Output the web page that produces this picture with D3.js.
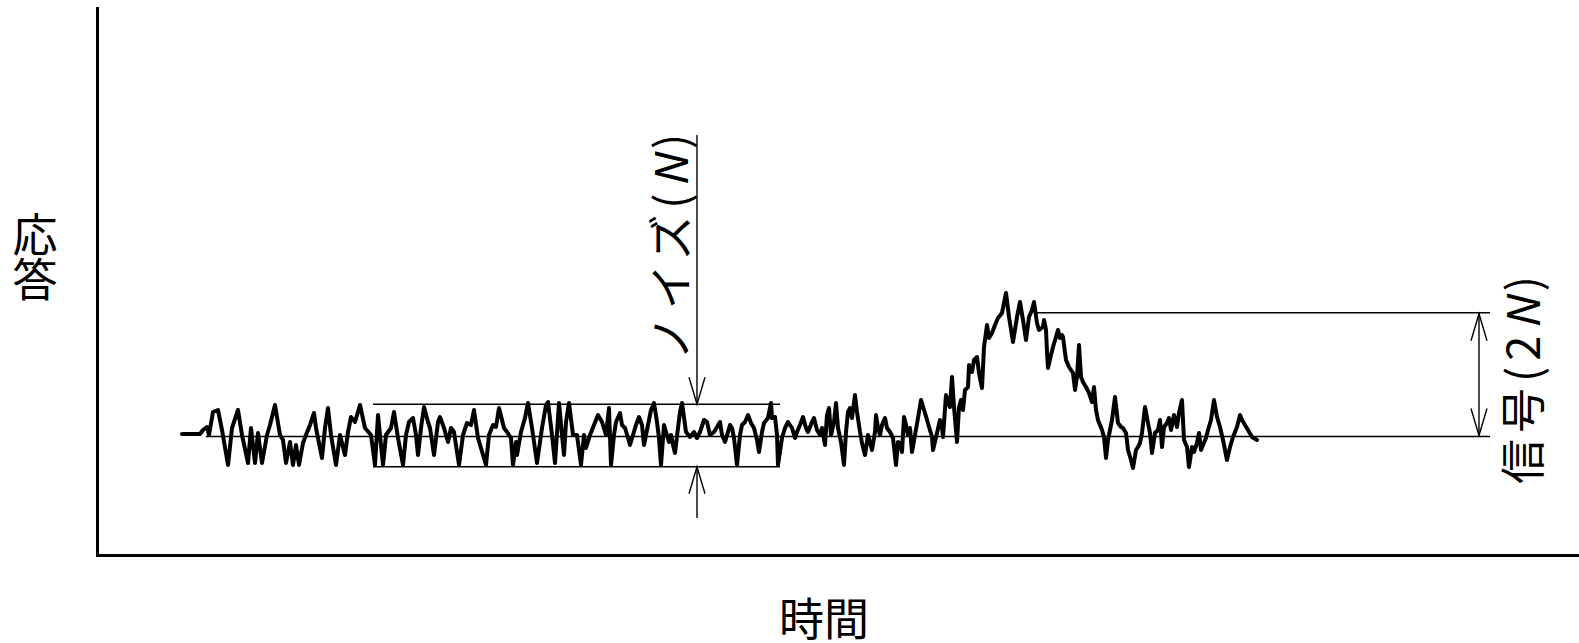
<!DOCTYPE html>
<html>
<head>
<meta charset="utf-8">
<script src="https://cdn.jsdelivr.net/npm/d3@7"></script>
<style>
  html, body { margin: 0; padding: 0; background: #fff; }
  svg { display: block; }
  .label { font-family: "Noto Sans CJK JP", "Noto Sans", sans-serif; fill: #000; }
</style>
</head>
<body>
<div id="chart"></div>
<script>
"use strict";

// detector trace (time, response)
const times = [
  85, 103, 106, 110, 112, 116, 121, 125, 131, 135, 141, 145, 151, 154, 158, 161, 165, 170, 173, 178,
  183, 186, 189, 193, 196, 199, 202, 206, 209, 213, 217, 219, 225, 228, 231, 234, 239, 243, 248, 251,
  254, 258, 263, 268, 274, 278, 281, 286, 289, 294, 297, 301, 306, 309, 312, 316, 319, 321, 324, 327,
  331, 333, 337, 341, 343, 347, 351, 354, 357, 362, 366, 370, 374, 377, 381, 384, 389, 392, 396, 399,
  402, 407, 410, 414, 416, 419, 420, 424, 428, 431, 435, 440, 445, 449, 451, 455, 458, 462, 465, 467,
  469, 472, 476, 480, 484, 487, 489, 493, 497, 501, 505, 509, 512, 514, 517, 519, 523, 525, 528, 531,
  533, 536, 539, 542, 545, 547, 551, 554, 557, 560, 562, 564, 567, 569, 572, 574, 576, 578, 581, 583,
  585, 589, 593, 597, 600, 603, 607, 610, 613, 617, 620, 623, 625, 628, 631, 633, 635, 637, 640, 643,
  645, 648, 651, 654, 657, 660, 662, 665, 667, 671, 674, 675, 678, 680, 681, 685, 688, 691, 695, 698,
  700, 703, 706, 709, 711, 715, 717, 720, 723, 725, 728, 730, 732, 734, 737, 739, 741, 744, 747, 749,
  751, 753, 755, 758, 760, 763, 765, 768, 771, 773, 775, 778, 779, 781, 783, 785, 788, 790, 793, 796,
  799, 801, 803, 805, 807, 809, 811, 813, 815, 818, 821, 824, 828, 835, 836, 840, 843, 845, 846, 849,
  851, 853, 855, 857, 860, 862, 864, 866, 868, 871, 872, 875, 877, 880, 882, 885, 887, 890, 892, 895,
  898, 901, 905, 909, 912, 916, 920, 923, 926, 929, 932, 935, 937, 940, 942, 946, 947, 949, 950, 951,
  954, 956, 959, 961, 963, 965, 966, 969, 972, 976, 978, 980, 982, 984, 986, 989, 992, 995, 997, 999,
  1001, 1005, 1007, 1009, 1011, 1015, 1018, 1021, 1024, 1026, 1029, 1031, 1034, 1036, 1039, 1041, 1043, 1045, 1048, 1051,
  1053, 1055, 1058, 1061, 1063, 1065, 1067, 1070, 1072, 1074, 1075, 1077, 1080, 1082, 1085, 1087, 1090, 1092, 1095, 1097,
  1100, 1102, 1104, 1106, 1109, 1111, 1114, 1117, 1120, 1123, 1126, 1130, 1133, 1136, 1140, 1143, 1145, 1148, 1151, 1155,
  1160
];
const responses = [
  121, 121, 125, 128, 120, 143, 145, 125, 90, 127, 145, 120, 92, 127, 92, 122, 92, 120, 130, 150,
  120, 115, 92, 113, 90, 110, 90, 112, 120, 130, 142, 127, 97, 127, 147, 120, 90, 120, 100, 123,
  138, 133, 150, 127, 120, 90, 140, 90, 120, 127, 143, 117, 90, 120, 133, 137, 120, 100, 127, 148,
  133, 127, 100, 133, 138, 127, 113, 127, 123, 90, 120, 132, 130, 145, 117, 107, 90, 120, 130, 128,
  147, 127, 123, 117, 90, 113, 100, 123, 137, 152, 127, 92, 127, 150, 153, 120, 92, 152, 120, 100,
  133, 152, 120, 120, 90, 120, 107, 120, 130, 140, 133, 120, 147, 90, 120, 133, 142, 130, 127, 117,
  110, 120, 130, 138, 130, 110, 130, 145, 152, 133, 117, 90, 130, 123, 113, 120, 110, 102, 127, 143,
  152, 123, 118, 123, 117, 123, 135, 133, 120, 123, 128, 133, 120, 113, 123, 130, 127, 117, 90, 120,
  130, 133, 140, 132, 127, 115, 103, 123, 132, 137, 152, 137, 138, 120, 90, 117, 127, 133, 127, 117,
  123, 130, 138, 127, 123, 133, 137, 125, 120, 127, 110, 140, 147, 120, 133, 152, 127, 113, 90, 123,
  143, 147, 137, 160, 143, 123, 112, 100, 120, 113, 105, 123, 140, 127, 120, 130, 137, 127, 123, 117,
  90, 113, 112, 103, 138, 130, 120, 127, 103, 120, 137, 155, 142, 118, 105, 122, 135, 128, 118, 160,
  152, 148, 178, 148, 113, 148, 155, 145, 165, 168, 190, 183, 195, 198, 182, 167, 208, 230, 217, 222,
  230, 237, 242, 262, 238, 213, 238, 253, 235, 215, 238, 245, 253, 232, 225, 228, 235, 225, 203, 187,
  200, 208, 218, 225, 217, 220, 218, 195, 188, 182, 165, 178, 210, 178, 173, 168, 162, 153, 168, 145,
  135, 125, 118, 97, 115, 135, 158, 132, 128, 127, 122, 105, 95, 87, 105, 108, 112, 122, 148, 132,
  122, 102, 122, 125, 135, 108, 128, 132, 137, 125, 130, 140, 128, 142, 155, 115, 108, 88, 108, 103,
  112, 122, 105, 110, 117, 125, 135, 155, 138, 128, 115, 95, 108, 118, 128, 140, 135, 130, 125, 118,
  115
];

// annotation levels
const baselineLevel = 118.5;
const noiseBand = [88.3, 150.7];
const noiseWindow = [276, 683];
const baselineSpan = [109, 1393];
const signalLevel = 242.3;
const signalStart = 940;
const noiseArrowTime = 600;
const noiseArrowTails = [37, 420];
const signalArrowTime = 1382;

const xLabel = "時間";
const yLabel = "応答";
const noiseLabel = ["ノイズ(", "N", ")"];
const signalLabel = ["信号(2", "N", ")"];

const width = 1579;
const height = 643;

const svg = d3.select("#chart")
  .append("svg")
  .attr("width", width)
  .attr("height", height);

const x = d3.scaleLinear().domain([0, 1482]).range([97, 1579]);
const y = d3.scaleLinear().domain([0, 547]).range([555, 8]);

// axes: bare lines, no ticks
const yAxis = d3.axisLeft(y).tickValues([]).tickSizeOuter(0);
const xAxis = d3.axisBottom(x).tickValues([]).tickSizeOuter(0);

svg.append("g")
  .attr("transform", `translate(${x(0)},0)`)
  .call(yAxis)
  .select(".domain")
  .attr("stroke-width", 3)
  .attr("stroke-linecap", "square");

svg.append("g")
  .attr("transform", `translate(0,${y(0)})`)
  .call(xAxis)
  .select(".domain")
  .attr("stroke-width", 3)
  .attr("stroke-linecap", "square");

// thin guide lines
const guides = svg.append("g").attr("stroke", "#000").attr("stroke-width", 1.4).attr("fill", "none");

function hLine(level, t0, t1) {
  guides.append("line")
    .attr("x1", x(t0)).attr("x2", x(t1))
    .attr("y1", y(level)).attr("y2", y(level));
}

function vLine(t, r0, r1) {
  guides.append("line")
    .attr("x1", x(t)).attr("x2", x(t))
    .attr("y1", y(r0)).attr("y2", y(r1));
}

// open V arrow head; dir 1 points up, -1 points down
function arrowHead(t, r, dir) {
  const px = x(t), py = y(r);
  const len = 27, half = 8;
  guides.append("path")
    .attr("d", `M${px - half},${py + dir * len}L${px},${py}L${px + half},${py + dir * len}`);
}

hLine(baselineLevel, baselineSpan[0], baselineSpan[1]);
hLine(noiseBand[0], noiseWindow[0], noiseWindow[1]);
hLine(noiseBand[1], noiseWindow[0], noiseWindow[1]);
hLine(signalLevel, signalStart, baselineSpan[1]);

vLine(noiseArrowTime, noiseArrowTails[1], noiseBand[1]);
arrowHead(noiseArrowTime, noiseBand[1], -1);
vLine(noiseArrowTime, noiseArrowTails[0], noiseBand[0]);
arrowHead(noiseArrowTime, noiseBand[0], 1);

vLine(signalArrowTime, baselineLevel, signalLevel);
arrowHead(signalArrowTime, signalLevel - 1, 1);
arrowHead(signalArrowTime, baselineLevel + 1, -1);

// the trace
const trace = times.map((t, i) => ({ t, r: responses[i] }));
const line = d3.line().x((d) => x(d.t)).y((d) => y(d.r));

svg.append("path")
  .datum(trace)
  .attr("fill", "none")
  .attr("stroke", "#000")
  .attr("stroke-width", 4)
  .attr("stroke-linejoin", "round")
  .attr("stroke-linecap", "round")
  .attr("d", line);

// labels
const fontSize = 45;

svg.append("text")
  .attr("class", "label")
  .attr("x", 824)
  .attr("y", 616)
  .attr("text-anchor", "middle")
  .attr("dominant-baseline", "central")
  .attr("font-size", fontSize)
  .text(xLabel);

svg.append("text")
  .attr("class", "label")
  .attr("x", 35)
  .attr("y", 257)
  .attr("text-anchor", "middle")
  .style("writing-mode", "vertical-rl")
  .attr("font-size", fontSize)
  .text(yLabel);

function rotatedLabel(parts, cx, cy) {
  const t = svg.append("text")
    .attr("class", "label")
    .attr("transform", `translate(${cx},${cy}) rotate(-90)`)
    .attr("text-anchor", "middle")
    .attr("dominant-baseline", "central")
    .attr("font-size", fontSize)
    .style("letter-spacing", "6px");
  parts.forEach((p, i) => {
    t.append("tspan")
      .attr("font-style", i === 1 ? "italic" : null)
      .text(p);
  });
}

rotatedLabel(noiseLabel, 668, 244);
rotatedLabel(signalLabel, 1520, 377);
</script>
</body>
</html>
